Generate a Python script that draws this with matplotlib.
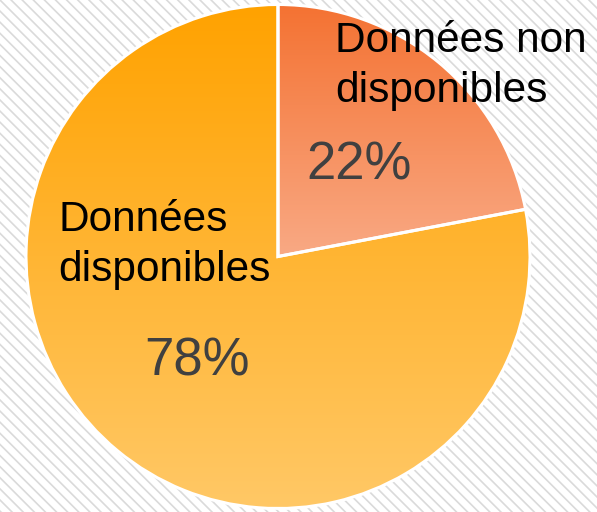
import numpy as np
import matplotlib
matplotlib.use("Agg")
import matplotlib.pyplot as plt
from matplotlib.colors import LinearSegmentedColormap
from matplotlib.patches import Rectangle

plt.rcParams['font.family'] = ['Liberation Sans', 'DejaVu Sans']
plt.rcParams['hatch.linewidth'] = 1.2
plt.rcParams['hatch.color'] = '#dadada'

# data
labels = ['Données non\ndisponibles', 'Données\ndisponibles']
values = [22, 78]
pct_labels = ['22%', '78%']
# gradient colours (top, bottom) for each slice
grad_colors = [('#f47232', '#f9a984'), ('#ffa200', '#ffc866')]

W, H = 597, 512
fig = plt.figure(figsize=(W / 100, H / 100), dpi=100)
ax = fig.add_axes([0, 0, 1, 1])
ax.set_axis_off()

# striped background
bg = Rectangle((0, 0), W, H, facecolor='white', edgecolor='#dadada',
               hatch='\\\\\\', linewidth=0, zorder=0)
ax.add_patch(bg)

cx, cy, r = 278, H - 256.5, 252
wedges, _ = ax.pie(values, startangle=90, counterclock=False, center=(cx, cy),
                   radius=r, wedgeprops=dict(edgecolor='white', linewidth=2.2))

grad = np.linspace(0, 1, 256).reshape(-1, 1)
for w, (c_top, c_bot) in zip(wedges, grad_colors):
    w.set_facecolor('none')
    w.set_zorder(3)
    cmap = LinearSegmentedColormap.from_list('g', [c_top, c_bot])
    bb = w.get_path().get_extents(w.get_patch_transform())
    im = ax.imshow(grad, extent=[bb.x0, bb.x1, bb.y0, bb.y1], origin='upper',
                   cmap=cmap, aspect='auto', zorder=2)
    im.set_clip_path(w)

ax.set_xlim(0, W)
ax.set_ylim(0, H)

# category labels (y is baseline of last line)
ax.text(335, H - 102, labels[0], fontsize=30.5, color='black', ha='left',
        va='baseline', linespacing=1.32, zorder=5)
ax.text(58, H - 281, labels[1], fontsize=30.5, color='black', ha='left',
        va='baseline', linespacing=1.32, zorder=5)
# percentages
ax.text(306, H - 180, pct_labels[0], fontsize=38, color='#404040', ha='left',
        va='baseline', zorder=5)
ax.text(144, H - 375, pct_labels[1], fontsize=38, color='#404040', ha='left',
        va='baseline', zorder=5)

fig.savefig('out.png', dpi=100)
